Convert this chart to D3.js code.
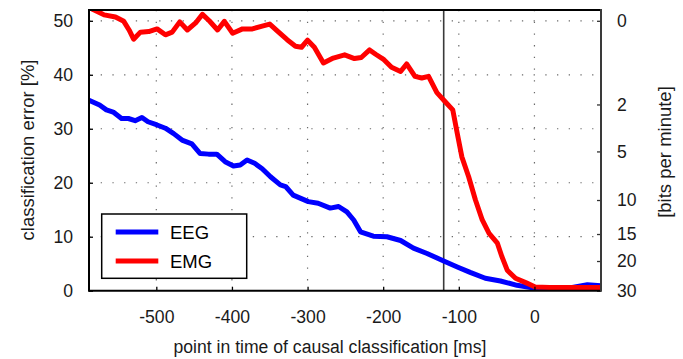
<!DOCTYPE html>
<html>
<head>
<meta charset="utf-8">
<script src="https://cdn.jsdelivr.net/npm/d3@7/dist/d3.min.js"></script>
<style>
  html, body { margin: 0; padding: 0; background: #fff; }
  svg { display: block; font-family: "Liberation Sans", Arial, sans-serif; }
</style>
</head>
<body>
<svg id="chart" width="683" height="359"></svg>
<script>
// ---- data ----
const xTicks = [-500, -400, -300, -200, -100, 0];
const yTicks = [0, 10, 20, 30, 40, 50];
const rightTickLabels = [0, 2, 5, 10, 15, 20, 30];
const rightTickErrors = [50, 34.5, 25.8, 16.8, 10.5, 5.5, 0];
const markerTime = -120;

const emgTime = [-585, -576, -569, -554, -543, -536, -530, -521, -510, -499, -488, -479, -469, -459, -448, -439, -430, -419, -410, -399, -386, -373, -360, -350, -339, -327, -316, -308, -300, -291, -279, -266, -251, -238, -229, -218, -210, -199, -189, -177, -169, -158, -149, -140, -129, -118, -108, -102, -96, -87, -78, -69, -60, -49, -43, -36, -25, -10, 1, 20, 40, 60, 88];
const emgError = [52.2, 51.6, 51.1, 50.7, 49.9, 48.3, 46.6, 47.9, 48.0, 48.5, 47.4, 47.9, 49.8, 48.3, 49.6, 51.2, 50.0, 48.3, 49.9, 47.7, 48.5, 48.5, 49.0, 49.4, 48.0, 46.5, 45.3, 45.1, 46.4, 45.1, 42.2, 43.1, 43.7, 43.0, 43.2, 44.6, 43.8, 42.8, 41.4, 40.6, 42.0, 39.7, 39.4, 39.7, 36.7, 35.0, 33.5, 29.1, 24.8, 21.1, 16.8, 13.1, 10.6, 8.8, 6.3, 3.8, 2.3, 1.4, 0.7, 0.6, 0.6, 0.6, 0.6];

const eegTime = [-589, -575, -566, -557, -546, -537, -528, -519, -511, -499, -488, -477, -466, -453, -442, -431, -420, -409, -398, -389, -380, -370, -360, -349, -336, -329, -319, -299, -286, -270, -259, -248, -239, -230, -213, -195, -177, -160, -142, -120, -102, -85, -65, -45, -23, -5, 20, 50, 70, 88];
const eegError = [35.3, 34.4, 33.5, 33.1, 31.9, 31.9, 31.5, 32.1, 31.3, 30.7, 30.1, 29.1, 27.9, 27.2, 25.4, 25.3, 25.3, 23.9, 23.1, 23.3, 24.2, 23.6, 22.6, 21.1, 19.6, 19.3, 17.7, 16.5, 16.2, 15.3, 15.6, 14.6, 13.1, 10.9, 10.1, 10.0, 9.3, 7.9, 6.9, 5.5, 4.4, 3.4, 2.3, 1.8, 1.0, 0.6, 0.5, 0.6, 1.1, 0.9];

const seriesNames = ["EEG", "EMG"];
const seriesColors = ["#0000ff", "#ff0000"];

// ---- layout ----
const L = 89, R = 601, T = 10, B = 290.7;
const svg = d3.select("#chart");
const x = d3.scaleLinear().domain([-589, 88]).range([L, R]);
const y = d3.scaleLinear().domain([0, 52]).range([B, T]);
const fs = 17.6;

svg.append("defs").append("clipPath").attr("id", "clip")
  .append("rect").attr("x", L).attr("y", T).attr("width", R - L).attr("height", B - T);

// grid
const grid = svg.append("g").attr("stroke", "#6a6a6a").attr("stroke-width", 1.2)
  .attr("stroke-dasharray", "1.3,10.4");
xTicks.forEach(t => grid.append("line").attr("x1", x(t)).attr("x2", x(t)).attr("y1", T).attr("y2", B));
yTicks.filter(v => v > 0).forEach(v => grid.append("line").attr("x1", L).attr("x2", R).attr("y1", y(v)).attr("y2", y(v)));

// vertical marker line
svg.append("line").attr("x1", x(markerTime)).attr("x2", x(markerTime))
  .attr("y1", T).attr("y2", B).attr("stroke", "#3a3a3a").attr("stroke-width", 1.6);

// lines
const line = d3.line().x(d => x(d[0])).y(d => y(d[1]));
const eegData = eegTime.map((t, i) => [t, eegError[i]]);
const emgData = emgTime.map((t, i) => [t, emgError[i]]);
const plot = svg.append("g").attr("clip-path", "url(#clip)");
[eegData, emgData].forEach((d, i) => {
  plot.append("path").datum(d).attr("d", line).attr("fill", "none")
    .attr("stroke", seriesColors[i]).attr("stroke-width", 5)
    .attr("stroke-linejoin", "round").attr("stroke-linecap", "butt");
});

// axes
const fmt = d => String(d);
const xAxis = d3.axisBottom(x).tickValues(xTicks).tickFormat(fmt).tickSizeInner(-4).tickSizeOuter(0).tickPadding(19.5);
const gx = svg.append("g").attr("transform", `translate(0,${B})`).call(xAxis);
const yAxis = d3.axisLeft(y).tickValues(yTicks).tickFormat(fmt).tickSizeInner(-4).tickSizeOuter(0).tickPadding(16);
const gy = svg.append("g").attr("transform", `translate(${L},0)`).call(yAxis);
const yR = d3.scaleLinear().domain([0, 52]).range([B, T]);
const rAxis = d3.axisRight(yR).tickValues(rightTickErrors)
  .tickFormat((d, i) => String(rightTickLabels[i])).tickSizeInner(-4).tickSizeOuter(0).tickPadding(16);
const gr = svg.append("g").attr("transform", `translate(${R},0)`).call(rAxis);

[gx, gy, gr].forEach(g => {
  g.selectAll("text").attr("font-size", fs).attr("fill", "#1a1a1a")
    .attr("font-family", "'Liberation Sans', Arial, sans-serif");
  g.selectAll(".tick line").attr("stroke", "#000").attr("stroke-width", 1.3);
  g.select(".domain").remove();
});
gx.selectAll("text").attr("dy", "0.71em");
gr.selectAll(".tick line").attr("stroke", "#333");

// frame
svg.append("line").attr("x1", L).attr("x2", R).attr("y1", T).attr("y2", T).attr("stroke", "#000").attr("stroke-width", 2);
svg.append("line").attr("x1", L).attr("x2", R).attr("y1", B).attr("y2", B).attr("stroke", "#000").attr("stroke-width", 2);
svg.append("line").attr("x1", L).attr("x2", L).attr("y1", T - 1).attr("y2", B + 1).attr("stroke", "#000").attr("stroke-width", 2);
svg.append("line").attr("x1", R).attr("x2", R).attr("y1", T - 1).attr("y2", B + 1).attr("stroke", "#3a3a3a").attr("stroke-width", 2);

// axis titles
svg.append("text").attr("x", (L + R) / 2 - 15).attr("y", 353).attr("text-anchor", "middle")
  .attr("font-size", fs).attr("fill", "#1a1a1a").text("point in time of causal classification [ms]");
svg.append("text").attr("transform", `translate(34,150) rotate(-90)`).attr("text-anchor", "middle")
  .attr("font-size", 18.5).attr("fill", "#1a1a1a").text("classification error [%]");
svg.append("text").attr("transform", `translate(671,152) rotate(-90)`).attr("text-anchor", "middle")
  .attr("font-size", 18.5).attr("fill", "#1a1a1a").text("[bits per minute]");

// legend
const lg = svg.append("g");
lg.append("rect").attr("x", 101.7).attr("y", 214).attr("width", 145).attr("height", 64.3)
  .attr("fill", "#fff").attr("stroke", "#000").attr("stroke-width", 1.5);
seriesNames.forEach((n, i) => {
  const yy = 232 + i * 29;
  lg.append("line").attr("x1", 115.7).attr("x2", 158.3).attr("y1", yy).attr("y2", yy)
    .attr("stroke", seriesColors[i]).attr("stroke-width", 5);
  lg.append("text").attr("x", 170).attr("y", yy).attr("dy", "0.36em")
    .attr("font-size", 18.5).attr("fill", "#000").text(n);
});
</script>
</body>
</html>
